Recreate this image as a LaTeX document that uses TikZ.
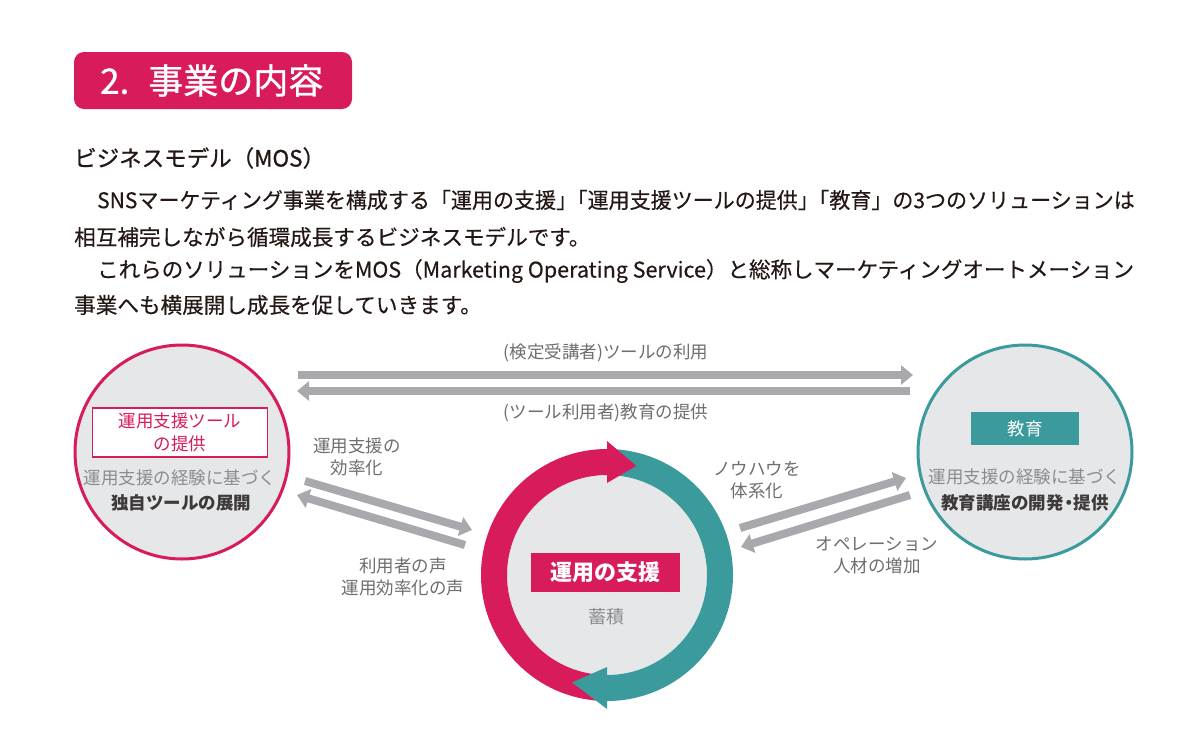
\documentclass[tikz,border=0pt]{standalone}
\usepackage{graphicx}
\usepackage{fontspec}
\setmainfont{Noto Sans CJK JP}
\newfontfamily\semibold[FakeBold=0.9]{Noto Sans CJK JP}
\newfontfamily\slightbold[FakeBold=0.35]{Noto Sans CJK JP}
\usetikzlibrary{arrows.meta}
\definecolor{crim}{HTML}{D81B5A}
\definecolor{tealc}{HTML}{3B9A9B}
\definecolor{circfill}{HTML}{E6E7E8}
\definecolor{arrgray}{HTML}{A7A9AC}
\definecolor{txtgray}{HTML}{8A8C8E}
\definecolor{txtdark}{HTML}{3E3A39}
\definecolor{labgray}{HTML}{6D6E71}
\definecolor{bodytxt}{HTML}{231815}
\newcommand\hkern{\hspace{-0.5em}}
\newcommand\qkern{\hspace{-0.22em}}
\tikzset{
  garrow/.style={draw=arrgray, line width=8pt, -{Triangle[width=19pt,length=12pt]}},
  lab/.style={text=labgray, font=\fontsize{17.5}{22}\selectfont, align=center, inner sep=0pt},
  para/.style={text=bodytxt, font=\slightbold\fontsize{21.6}{26}\selectfont, anchor=west, inner sep=0pt},
  big/.style={circle, fill=circfill, inner sep=0pt, minimum size=214pt, line width=3pt},
  ltxt/.style={text=txtgray, font=\fontsize{17.5}{22}\selectfont, inner sep=0pt},
  btxt/.style={text=txtdark, font=\fontsize{17.5}{22}\selectfont\bfseries, inner sep=0pt}
}
\begin{document}
\begin{tikzpicture}[x=1pt,y=-1pt]
\useasboundingbox[fill=white] (0,0) rectangle (1200,737);
% title
\node[fill=crim, rounded corners=10pt, minimum width=278pt, minimum height=57pt, inner sep=0pt] (titlebox) at (213,80.5) {};
\node[text=white, font=\semibold\fontsize{35}{38}\selectfont, anchor=west, inner sep=0pt] (title) at (100,80.5) {2.\hspace{19pt}事業の内容};
\node[text=bodytxt, font=\semibold\fontsize{22.5}{26}\selectfont, anchor=west, inner sep=0pt] (heading) at (74,158) {ビジネスモデル（MOS）};
% paragraph
\node[para] (p1) at (97,200) {\scalebox{0.973}[1]{SNSマーケティング事業を構成する「運用の支援」\hkern「運用支援ツールの提供」\hkern「教育」の3つのソリューションは}};
\node[para] (p2) at (74,237) {相互補完しながら循環成長するビジネスモデルです。};
\node[para] (p3) at (97,271) {\scalebox{0.996}[1]{これらのソリューションをMOS（Marketing Operating Service）と総称しマーケティングオートメーション}};
\node[para] (p4) at (74,305) {事業へも横展開し成長を促していきます。};
% left circle
\node[big, draw=crim] (lc) at (182,452) {};
\node[draw=crim, line width=1.5pt, fill=white, minimum width=175pt, minimum height=49pt, inner sep=0pt, text=crim, align=center, font=\fontsize{17.5}{23}\selectfont] (lbox) at (180,432.5) {運用支援ツール\\の提供};
\node[ltxt] (lt1) at (180,478) {運用支援の経験に基づく};
\node[btxt] (lt2) at (181,503) {独自ツールの展開};
% right circle
\node[big, draw=tealc] (rc) at (1025,452) {};
\node[fill=tealc, minimum width=108pt, minimum height=33pt, inner sep=0pt, text=white, font=\fontsize{17.5}{22}\selectfont] (rbox) at (1025,428.5) {教育};
\node[ltxt] (rt1) at (1025,477) {運用支援の経験に基づく};
\node[btxt] (rt2) at (1025,503) {教育講座の開発\qkern・\qkern 提供};
% center circle
\node[circle, fill=circfill, inner sep=0pt, minimum size=200pt] (cc) at (607,575) {};
\begin{scope}[shift={(607,575)}, y=1pt]
  \fill[crim] (90:126) arc[start angle=90, end angle=265, radius=126] -- (265:100) arc[start angle=265, end angle=90, radius=100] -- cycle;
  \fill[tealc] (86:126) arc[start angle=86, end angle=-90, radius=126] -- (-90:100) arc[start angle=-90, end angle=86, radius=100] -- cycle;
  \fill[crim] (90:134) -- (75:113) -- (90:92) -- cycle;
  \fill[tealc] (-90:134) -- (-108:113) -- (-90:92) -- cycle;
\end{scope}
\node[fill=crim, minimum width=149pt, minimum height=39pt, inner sep=0pt, text=white, font=\fontsize{22}{26}\selectfont\bfseries] (cbox) at (605.5,572.5) {運用の支援};
\node[text=txtgray, font=\fontsize{18}{22}\selectfont, inner sep=0pt] (ct) at (606,617) {蓄積};
% arrow coordinates
\coordinate (t1s) at (298,375);
\coordinate (t1e) at (913,375);
\coordinate (t2s) at (910,391);
\coordinate (t2e) at (297,391);
\coordinate (as) at (305,481);
\coordinate (ae) at (472,530);
\coordinate (bs) at (465,545);
\coordinate (be) at (297,495);
\coordinate (cs) at (740,528);
\coordinate (ce) at (906,478);
\coordinate (ds) at (910,495);
\coordinate (de) at (741,547);
\draw[garrow] (t1s) -- (t1e);
\draw[garrow] (t2s) -- (t2e);
\draw[garrow] (as) -- (ae);
\draw[garrow] (bs) -- (be);
\draw[garrow] (cs) -- (ce);
\draw[garrow] (ds) -- (de);
% labels
\node[lab] (l1) at (606,353) {(検定受講者)ツールの利用};
\node[lab] (l2) at (606,413) {(ツール利用者)教育の提供};
\node[lab] (l3) at (357,457) {運用支援の\\効率化};
\node[lab] (l4) at (403,577) {利用者の声\\運用効率化の声};
\node[lab] (l5) at (757,480) {ノウハウを\\体系化};
\node[lab] (l6) at (877,555) {オペレーション\\人材の増加};
\end{tikzpicture}
\end{document}
